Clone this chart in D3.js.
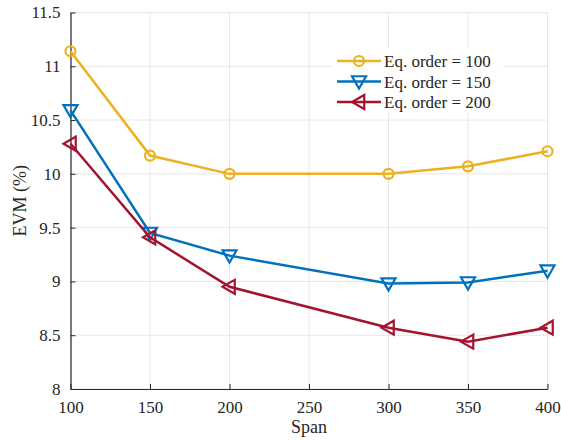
<!DOCTYPE html>
<html>
<head>
<meta charset="utf-8">
<script src="https://cdn.jsdelivr.net/npm/d3@7"></script>
<style>
body{margin:0;background:#fff;}
svg text{font-family:"Liberation Serif","Times New Roman","DejaVu Serif",serif !important;fill:#262626;}
</style>
</head>
<body>
<script>
var spans = [100, 150, 200, 300, 350, 400]
var order100 = [11.14, 10.17, 10.0, 10.0, 10.07, 10.21]
var order150 = [10.59, 9.45, 9.24, 8.98, 8.99, 9.10]
var order200 = [10.28, 9.41, 8.95, 8.57, 8.44, 8.57]
var seriesNames = ["Eq. order = 100", "Eq. order = 150", "Eq. order = 200"]
var xTicks = [100, 150, 200, 250, 300, 350, 400]
var yTicks = [8, 8.5, 9, 9.5, 10, 10.5, 11, 11.5]

var colors = ["#EDB120", "#0072BD", "#A2142F"]
var markers = ["circle", "down", "left"]

var svg = d3.select("body").append("svg")
    .attr("width", 561)
    .attr("height", 440)

var x = d3.scaleLinear().domain([100, 400]).range([70.5, 547.5])
var y = d3.scaleLinear().domain([8, 11.5]).range([389, 12.5])

// grid
svg.selectAll(".gx").data(xTicks).enter().append("line")
    .attr("x1", d => x(d)).attr("x2", d => x(d))
    .attr("y1", y(8)).attr("y2", y(11.5))
    .attr("stroke", "#e6e6e6").attr("stroke-width", 1)
svg.selectAll(".gy").data(yTicks).enter().append("line")
    .attr("x1", x(100)).attr("x2", x(400))
    .attr("y1", d => y(d)).attr("y2", d => y(d))
    .attr("stroke", "#e6e6e6").attr("stroke-width", 1)

// axes
var xAxis = svg.append("g").attr("transform", "translate(0," + y(8) + ")")
    .call(d3.axisBottom(x).tickValues(xTicks).tickSizeInner(-5).tickSizeOuter(0).tickPadding(12))
var yAxis = svg.append("g").attr("transform", "translate(" + x(100) + ",0)")
    .call(d3.axisLeft(y).tickValues(yTicks).tickSizeInner(-5).tickSizeOuter(0).tickPadding(10).tickFormat(d3.format("")))
;[xAxis, yAxis].forEach(function(a){
    a.attr("font-family", null)
    a.selectAll("path").attr("stroke", "#262626").attr("stroke-width", 1.2)
    a.selectAll("line").attr("stroke", "#262626")
    a.selectAll("text").style("font-size", "17px").attr("fill", "#262626")
})

svg.append("text").attr("x", x(250)).attr("y", 433).attr("text-anchor", "middle")
    .style("font-size", "18px").text("Span")
svg.append("text").attr("transform", "translate(26," + y(9.75) + ") rotate(-90)")
    .attr("text-anchor", "middle").style("font-size", "18px").text("EVM (%)")

function marker(g, type, cx, cy, col){
    if(type == "circle"){
        g.append("circle").attr("cx", cx).attr("cy", cy).attr("r", 5)
            .attr("fill", "none").attr("stroke", col).attr("stroke-width", 2.2)
    } else if(type == "down"){
        var s = 7
        g.append("path").attr("d", "M" + (cx - s) + "," + (cy - s*0.75) + "L" + (cx + s) + "," + (cy - s*0.75) + "L" + cx + "," + (cy + s) + "Z")
            .attr("fill", "none").attr("stroke", col).attr("stroke-width", 2.2)
    } else {
        var s = 7
        g.append("path").attr("d", "M" + (cx + s*0.75) + "," + (cy - s) + "L" + (cx + s*0.75) + "," + (cy + s) + "L" + (cx - s) + "," + cy + "Z")
            .attr("fill", "none").attr("stroke", col).attr("stroke-width", 2.2)
    }
}

var allSeries = [order100, order150, order200]
var line = d3.line().x(d => x(d[0])).y(d => y(d[1]))
for(var i = 0; i < allSeries.length; i++){
    var pts = spans.map((s, j) => [s, allSeries[i][j]])
    var g = svg.append("g")
    g.append("path").attr("d", line(pts)).attr("fill", "none")
        .attr("stroke", colors[i]).attr("stroke-width", 2.5)
    for(var j = 0; j < pts.length; j++){
        marker(g, markers[i], x(pts[j][0]), y(pts[j][1]), colors[i])
    }
}

// legend
var leg = svg.append("g")
leg.append("rect").attr("x", 333).attr("y", 47).attr("width", 170).attr("height", 66).attr("fill", "#fff")
for(var i = 0; i < seriesNames.length; i++){
    var ly = 61 + i * 20.5
    leg.append("line").attr("x1", 337).attr("x2", 381).attr("y1", ly).attr("y2", ly)
        .attr("stroke", colors[i]).attr("stroke-width", 2.5)
    marker(leg, markers[i], 359, ly, colors[i])
    leg.append("text").attr("x", 384).attr("y", ly + 6).style("font-size", "17px").text(seriesNames[i])
}
</script>
</body>
</html>
